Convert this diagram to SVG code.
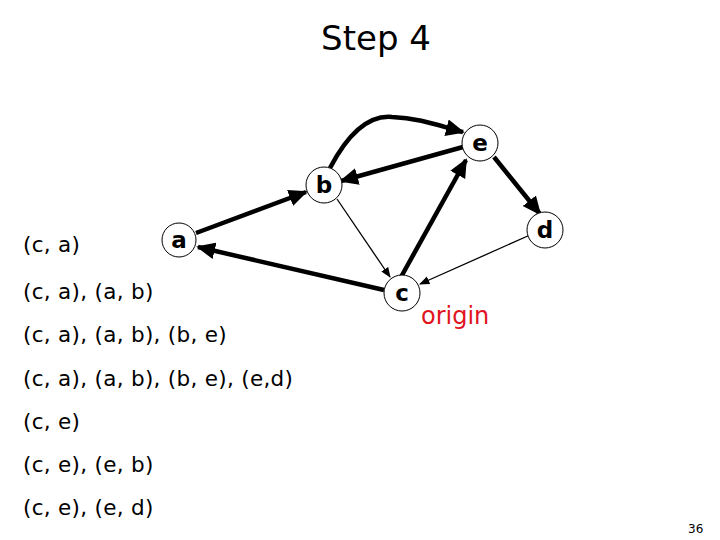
<svg xmlns="http://www.w3.org/2000/svg" width="720" height="540" viewBox="0 0 720 540">
<defs>
<marker id="ah" viewBox="0 0 10 10" refX="9" refY="5" markerWidth="4.2" markerHeight="4.2" orient="auto" markerUnits="strokeWidth"><path d="M0,0.5 L10,5 L0,9.5 Z" fill="#000"/></marker>
<marker id="ahs" viewBox="0 0 10 10" refX="9" refY="5" markerWidth="8" markerHeight="8" orient="auto" markerUnits="strokeWidth"><path d="M0,1 L10,5 L0,9 Z" fill="#000"/></marker>
</defs>
<style>
text{font-family:"DejaVu Sans","Liberation Sans",sans-serif;fill:#000}
.lbl{font-size:21.5px;letter-spacing:0.3px}
.nd circle{fill:#fff;stroke:#000;stroke-width:1}
.nd text{font-size:23px;text-anchor:middle;font-weight:bold}
.thick{stroke:#000;stroke-width:4.5;fill:none;marker-end:url(#ah)}
.thin{stroke:#000;stroke-width:1.3;fill:none;marker-end:url(#ahs)}
</style>
<rect width="720" height="540" fill="#fff"/>
<text x="376" y="50" font-size="34" text-anchor="middle">Step 4</text>
<g id="labels">
<text class="lbl" x="23" y="252">(c, a)</text>
<text class="lbl" x="23" y="299">(c, a), (a, b)</text>
<text class="lbl" x="23" y="342">(c, a), (a, b), (b, e)</text>
<text class="lbl" x="23" y="386">(c, a), (a, b), (b, e), (e,d)</text>
<text class="lbl" x="23" y="429">(c, e)</text>
<text class="lbl" x="23" y="472">(c, e), (e, b)</text>
<text class="lbl" x="23" y="515">(c, e), (e, d)</text>
</g>
<g id="connectors">
<line class="thick" x1="196" y1="233" x2="306" y2="192"/>
<line class="thick" x1="384" y1="290" x2="198" y2="247"/>
<line class="thin" x1="337" y1="199" x2="390" y2="277"/>
<line class="thick" x1="401" y1="277" x2="466" y2="160"/>
<line class="thick" x1="463" y1="147" x2="341" y2="181"/>
<path class="thick" d="M330,168 C350,130 370,115 392,117 C420,118 440,126 463,132"/>
<line class="thick" x1="494" y1="157" x2="540" y2="214"/>
<line class="thin" x1="530" y1="235" x2="420" y2="284"/>
</g>
<g id="node-a" class="nd"><circle cx="179" cy="240" r="17"/><text x="179" y="248">a</text></g>
<g id="node-b" class="nd"><circle cx="324" cy="185" r="18"/><text x="324" y="193">b</text></g>
<g id="node-e" class="nd"><circle cx="480" cy="143" r="18"/><text x="480" y="151">e</text></g>
<g id="node-d" class="nd"><circle cx="545" cy="230" r="18"/><text x="545" y="238">d</text></g>
<g id="node-c" class="nd"><circle cx="402" cy="293" r="18"/><text x="402" y="301">c</text></g>
<text x="421" y="324" font-size="24" style="fill:#e0141e">origin</text>
<text x="688" y="533" font-size="12" font-family="Liberation Sans, sans-serif">36</text>
</svg>
